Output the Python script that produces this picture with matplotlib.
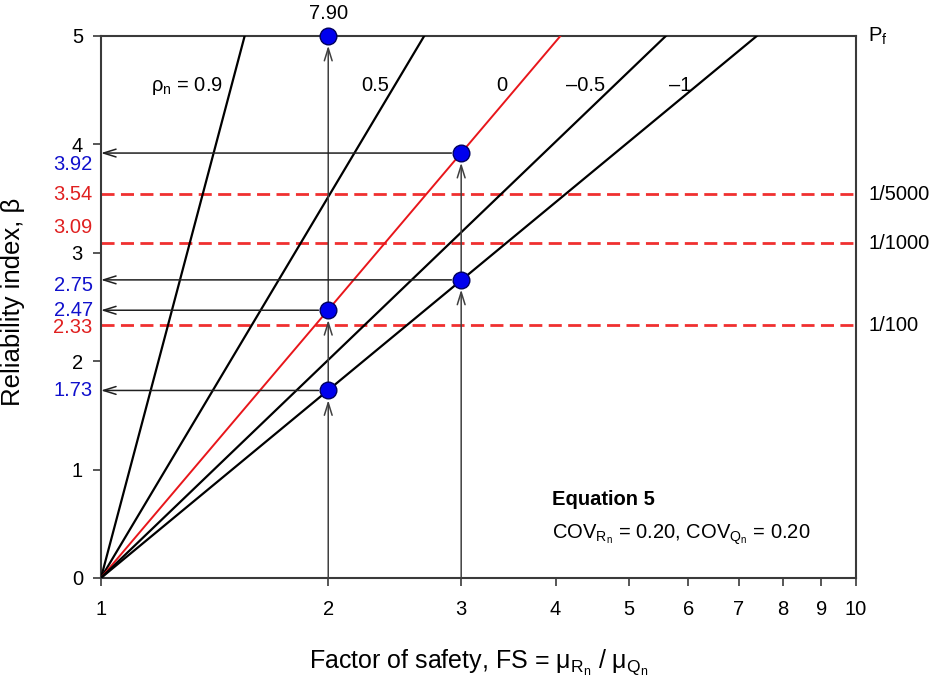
import numpy as np
import matplotlib
matplotlib.use("Agg")
import matplotlib.pyplot as plt

plt.rcParams['font.family'] = ['Liberation Sans', 'DejaVu Sans']
plt.rcParams['mathtext.default'] = 'regular'

# correlation curves: beta grows linearly with ln(FS); each line runs from FS=1 (beta=0) to the FS where beta=5
rho_labels = ['$\u03c1_n$ = 0.9', '0.5', '0', '\u20130.5', '\u20131']
fs_at_top = [1.55, 2.68, 4.06, 5.60, 7.39]
line_colors = ['black', 'black', '#e8161b', 'black', 'black']

# read-off points
pt_fs = [2, 2, 2, 3, 3]
pt_beta = [7.90, 2.47, 1.73, 3.92, 2.75]

# target probabilities of failure
pf_beta = [3.54, 3.09, 2.33]
pf_labels = ['1/5000', '1/1000', '1/100']

fs_txt = 14.5

fig = plt.figure(figsize=(9.4, 6.88), dpi=100)
ax = fig.add_axes([0.1074, 0.1599, 0.8032, 0.7878])
ax.set_xscale('log')
ax.set_xlim(1, 10)
ax.set_ylim(0, 5)

frame_c = '#3a3a3a'
for s in ax.spines.values():
    s.set_color(frame_c)
    s.set_linewidth(1.5)

# dashed target lines
for b in pf_beta:
    ax.axhline(b, color='#f03030', lw=2, dashes=(4.7, 2.3), zorder=2)

# rho lines
for fs, c in zip(fs_at_top, line_colors):
    ax.plot([1, fs], [0, 5], color=c, lw=1.6 if c == 'black' else 1.4, zorder=3)

# arrows from the FS axis up to each point, then across to the beta axis
arr = dict(arrowstyle='->,head_length=0.9,head_width=0.28', color='#404040', lw=1.1,
           shrinkA=0, shrinkB=7)
for fs in sorted(set(pt_fs)):
    ys = sorted(min(b, 5) for f, b in zip(pt_fs, pt_beta) if f == fs)
    prev = 0
    for y in ys:
        ax.annotate('', xy=(fs, y), xytext=(fs, prev), arrowprops=arr,
                    zorder=4, annotation_clip=False)
        prev = y
for fs, b in zip(pt_fs, pt_beta):
    if b < 5:
        ax.annotate('', xy=(1, b), xytext=(fs, b),
                    arrowprops=dict(arr, color='#202020', shrinkA=7, shrinkB=0), zorder=4)

ax.plot(pt_fs, np.minimum(pt_beta, 5), 'o', ms=12, mfc='#0000ee', mec='#000060', mew=1,
        clip_on=False, zorder=6)
ax.text(2, 5.21, '%.2f' % pt_beta[0], ha='center', va='center', fontsize=fs_txt)

# rho labels
rho_pos = [1.30, 2.31, 3.40, 4.38, 5.85]
for x, t in zip(rho_pos, rho_labels):
    ax.text(x, 4.54, t, ha='center', va='center', fontsize=fs_txt)

# ticks
ax.set_xticks(range(1, 11))
ax.set_xticklabels([str(i) for i in range(1, 11)])
ax.xaxis.set_minor_locator(matplotlib.ticker.NullLocator())
ax.set_yticks(range(0, 6))
ax.tick_params(direction='out', length=6, width=1.2, color=frame_c, labelsize=fs_txt)
ax.tick_params(axis='y', pad=7)
ax.tick_params(axis='x', pad=10)

# coloured beta values at the left axis
trans = ax.get_yaxis_transform()
left_vals = [3.92, 3.54, 3.09, 2.75, 2.47, 2.33, 1.73]
left_pos = [3.81, 3.54, 3.23, 2.70, 2.47, 2.31, 1.73]
left_cols = ['#1010cc', '#e02020', '#e02020', '#1010cc', '#1010cc', '#e02020', '#1010cc']
for v, p, c in zip(left_vals, left_pos, left_cols):
    ax.text(-0.011, p, '%.2f' % v, transform=trans, ha='right', va='center', color=c, fontsize=fs_txt)

# Pf labels at the right
ax.text(1.016, 5.0, '$P_f$', transform=trans, ha='left', va='center', fontsize=fs_txt)
for b, t in zip(pf_beta, pf_labels):
    ax.text(1.016, b, t, transform=trans, ha='left', va='center', fontsize=fs_txt)

ax.text(0.598, 0.135, 'Equation 5', transform=ax.transAxes, fontsize=fs_txt, fontweight='bold')
ax.text(0.598, 0.072, 'COV$_{R_n}$ = 0.20, COV$_{Q_n}$ = 0.20', transform=ax.transAxes, fontsize=fs_txt)

ax.set_xlabel('Factor of safety, FS = $\u03bc_{R_n}$ / $\u03bc_{Q_n}$', fontsize=18)
ax.set_ylabel('Reliability index, \u03b2', fontsize=18.5)
ax.xaxis.set_label_coords(0.5, -0.127)
ax.yaxis.set_label_coords(-0.100, 0.51)

fig.savefig('out.png', dpi=100)
